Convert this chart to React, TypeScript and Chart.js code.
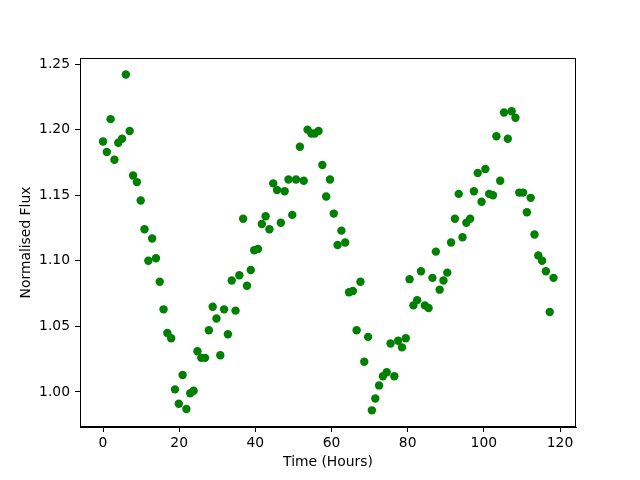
import React, { useEffect, useRef } from "react";
import { Chart, registerables } from "chart.js";

Chart.register(...registerables);

// Time (hours) of each sample
const timeHours: number[] = [
  0.0, 1.0, 2.0, 3.0, 4.0, 5.0, 6.0, 7.0, 7.9, 8.9,
  9.9, 10.9, 11.9, 12.9, 13.9, 14.9, 15.9, 16.9, 17.9, 18.9,
  19.9, 20.9, 21.9, 22.9, 23.8, 24.8, 25.8, 26.8, 27.8, 28.8,
  29.8, 30.8, 31.8, 32.8, 33.8, 34.8, 35.8, 36.8, 37.8, 38.8,
  39.7, 40.7, 41.7, 42.7, 43.7, 44.7, 45.7, 46.7, 47.7, 48.7,
  49.7, 50.7, 51.7, 52.7, 53.7, 54.7, 55.6, 56.6, 57.6, 58.6,
  59.6, 60.6, 61.6, 62.6, 63.6, 64.6, 65.6, 66.6, 67.6, 68.6,
  69.6, 70.6, 71.5, 72.5, 73.5, 74.5, 75.5, 76.5, 77.5, 78.5,
  79.5, 80.5, 81.5, 82.5, 83.5, 84.5, 85.5, 86.5, 87.4, 88.4,
  89.4, 90.4, 91.4, 92.4, 93.4, 94.4, 95.4, 96.4, 97.4, 98.4,
  99.4, 100.4, 101.4, 102.4, 103.3, 104.3, 105.3, 106.3, 107.3, 108.3,
  109.3, 110.3, 111.3, 112.3, 113.3, 114.3, 115.3, 116.3, 117.3, 118.3,
];

// Normalised flux values
const normalisedFlux: number[] = [
  1.191, 1.183, 1.208, 1.177, 1.190, 1.193, 1.242, 1.199, 1.165, 1.160,
  1.146, 1.124, 1.100, 1.117, 1.102, 1.084, 1.063, 1.045, 1.041, 1.002,
  0.991, 1.013, 0.987, 0.999, 1.001, 1.031, 1.026, 1.026, 1.047, 1.065,
  1.056, 1.028, 1.063, 1.044, 1.085, 1.062, 1.089, 1.132, 1.081, 1.093,
  1.108, 1.109, 1.128, 1.134, 1.124, 1.159, 1.154, 1.129, 1.153, 1.162,
  1.135, 1.162, 1.187, 1.161, 1.200, 1.197, 1.197, 1.199, 1.173, 1.149,
  1.162, 1.136, 1.112, 1.123, 1.114, 1.076, 1.077, 1.047, 1.084, 1.023,
  1.042, 0.986, 0.995, 1.005, 1.012, 1.015, 1.037, 1.012, 1.039, 1.034,
  1.041, 1.086, 1.066, 1.070, 1.092, 1.066, 1.064, 1.087, 1.107, 1.078,
  1.085, 1.091, 1.114, 1.132, 1.151, 1.118, 1.129, 1.132, 1.153, 1.167,
  1.145, 1.170, 1.151, 1.150, 1.195, 1.161, 1.213, 1.193, 1.214, 1.209,
  1.152, 1.152, 1.137, 1.148, 1.120, 1.104, 1.100, 1.092, 1.061, 1.087,
];

const xTitle = "Time (Hours)";
const yTitle = "Normalised Flux";

const FONT = "'DejaVu Sans', sans-serif";
const FS = 13.89;

const frame = {
  id: "frame",
  afterDraw(chart: any) {
    const { ctx, chartArea } = chart;
    ctx.save();
    ctx.strokeStyle = "#000";
    ctx.lineWidth = 1;
    ctx.strokeRect(
      Math.round(chartArea.left) + 0.5,
      Math.round(chartArea.top) + 0.5,
      Math.round(chartArea.right - chartArea.left) - 1,
      Math.round(chartArea.bottom - chartArea.top) - 1
    );
    ctx.restore();
  },
};

export default function App() {
  const ref = useRef<HTMLCanvasElement>(null);

  useEffect(() => {
    if (!ref.current) return;
    const points = timeHours.map((t, i) => ({ x: t, y: normalisedFlux[i] }));
    const chart = new Chart(ref.current, {
      type: "scatter",
      data: {
        datasets: [
          {
            data: points,
            backgroundColor: "#008000",
            pointBackgroundColor: "#008000",
            pointBorderWidth: 0,
            pointRadius: 4.2,
            pointHoverRadius: 4.2,
          },
        ],
      },
      options: {
        responsive: false,
        animation: false,
        devicePixelRatio: 1,
        layout: { padding: { left: 0, top: 58, right: 64, bottom: 0 } },
        plugins: {
          legend: { display: false },
          tooltip: { enabled: false },
        },
        scales: {
          x: {
            type: "linear",
            min: -6.04,
            max: 124.2,
            afterFit(scale: any) {
              scale.height = 53;
            },
            ticks: {
              stepSize: 20,
              includeBounds: false,
              color: "#000",
              padding: 3,
              font: { family: FONT, size: FS },
            },
            grid: {
              display: true,
              drawOnChartArea: false,
              drawTicks: true,
              tickLength: 5,
              color: "#000",
              lineWidth: 1,
            },
            border: { display: true, color: "#000", width: 1 },
            title: {
              display: true,
              text: xTitle,
              color: "#000",
              font: { family: FONT, size: FS },
              padding: { top: 0, bottom: 9 },
            },
          },
          y: {
            type: "linear",
            min: 0.9733,
            max: 1.2546,
            afterFit(scale: any) {
              scale.width = 80;
            },
            ticks: {
              stepSize: 0.05,
              includeBounds: false,
              color: "#000",
              padding: 5,
              font: { family: FONT, size: FS },
              callback: (v: any) => Number(v).toFixed(2),
            },
            grid: {
              display: true,
              drawOnChartArea: false,
              drawTicks: true,
              tickLength: 5,
              color: "#000",
              lineWidth: 1,
            },
            border: { display: true, color: "#000", width: 1 },
            title: {
              display: true,
              text: yTitle,
              color: "#000",
              font: { family: FONT, size: FS },
              padding: { top: 18, bottom: 0 },
            },
          },
        },
      },
      plugins: [frame],
    });
    return () => chart.destroy();
  }, []);

  return (
    <div style={{ position: "absolute", left: 0, top: 0, width: 640, height: 480, background: "#fff" }}>
      <canvas ref={ref} width={640} height={480} style={{ width: 640, height: 480, display: "block" }} />
    </div>
  );
}
